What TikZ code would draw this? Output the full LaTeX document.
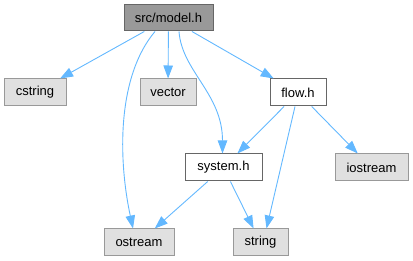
\documentclass[tikz,border=0pt]{standalone}
\usepackage{fontspec}
\setmainfont{Liberation Sans}
\usetikzlibrary{arrows.meta}
\definecolor{edgeblue}{HTML}{63B8FF}
\definecolor{curfill}{HTML}{999999}
\definecolor{curline}{HTML}{666666}
\definecolor{sysfill}{HTML}{E0E0E0}
\definecolor{sysline}{HTML}{999999}
\tikzset{
  filebox/.style={draw, line width=1pt, minimum height=27pt, inner sep=0pt,
    font=\fontsize{13}{15}\selectfont, text=black},
  current/.style={filebox, fill=curfill, draw=curline},
  local/.style={filebox, fill=white, draw=curline},
  syshdr/.style={filebox, fill=sysfill, draw=sysline},
  dep/.style={draw=edgeblue, line width=0.9pt,
    -{Triangle[length=13pt,width=9.5pt]}, fill=none},
}
\begin{document}
\begin{tikzpicture}[x=1pt,y=-1pt]
  \useasboundingbox (0,0) rectangle (413,261);
  % header nodes
  \node[current, minimum width=89pt, minimum height=26pt] (model) at (168.5,18) {src/model.h};
  \node[syshdr, minimum width=62pt] (cstring) at (35,92.5) {cstring};
  \node[syshdr, minimum width=56pt] (vector) at (168,92.5) {vector};
  \node[local, minimum width=56pt] (flow) at (298,92.5) {flow.h};
  \node[local, minimum width=77pt] (system) at (223.5,167.5) {system.h};
  \node[syshdr, minimum width=73pt] (iostream) at (371.5,167.5) {iostream};
  \node[syshdr, minimum width=70pt] (ostream) at (139,242.5) {ostream};
  \node[syshdr, minimum width=55pt] (string) at (260.5,242.5) {string};
  % include dependencies
  \draw[dep] (model) -- (cstring);
  \draw[dep] (model) -- (vector);
  \draw[dep] (model) -- (flow);
  \draw[dep] ([xshift=-13.5pt]model.south) .. controls +(-38,45) and +(-15,-70) .. ([xshift=-6pt]ostream.north);
  \draw[dep] ([xshift=10.5pt]model.south) .. controls +(3,40) and +(0,-60) .. ([xshift=-1pt]system.north);
  \draw[dep] (flow) -- (system);
  \draw[dep] (flow) -- (iostream);
  \draw[dep] ([xshift=-3pt]flow.south) -- ([xshift=6pt]string.north);
  \draw[dep] (system) -- (ostream);
  \draw[dep] (system) -- (string);
\end{tikzpicture}
\end{document}
